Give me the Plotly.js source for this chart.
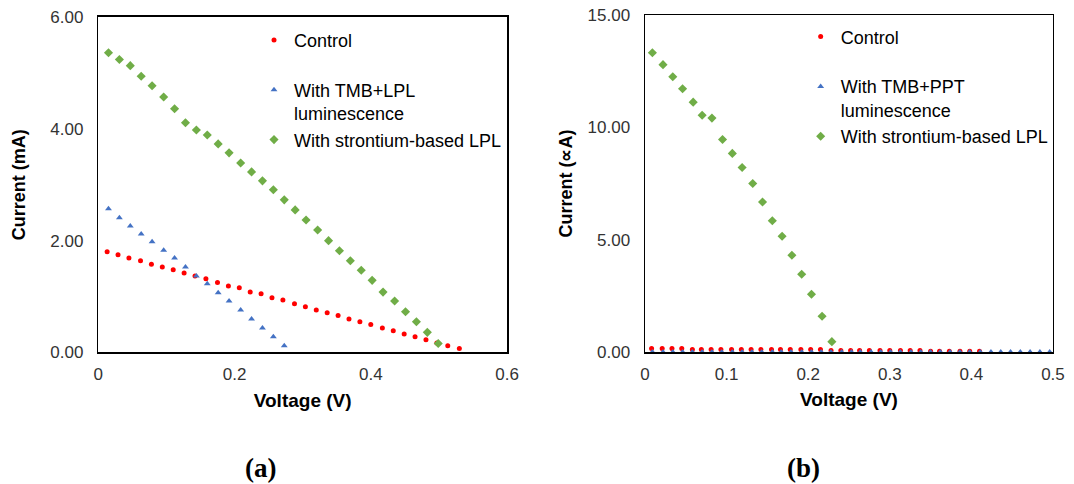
<!DOCTYPE html>
<html>
<head>
<meta charset="utf-8">
<script src="https://cdn.plot.ly/plotly-3.0.1.min.js"></script>
<style>html,body{margin:0;padding:0;background:#fff;}#chart{width:1074px;height:484px;}</style>
</head>
<body>
<div id="chart"></div>
<script>
// ---- Panel (a) ----
const voltA_ctrl = [0.013,0.029,0.045,0.062,0.078,0.094,0.110,0.126,0.142,0.158,0.175,0.191,0.207,0.223,0.239,0.255,0.271,0.288,0.304,0.320,0.336,0.352,0.368,0.384,0.400,0.417,0.433,0.449,0.465,0.481,0.497,0.513,0.530];
const currA_ctrl = [1.80,1.75,1.69,1.64,1.58,1.53,1.48,1.42,1.37,1.32,1.25,1.19,1.16,1.08,1.05,0.98,0.94,0.87,0.82,0.76,0.71,0.66,0.60,0.55,0.50,0.44,0.39,0.33,0.28,0.23,0.17,0.12,0.07];
const voltA_tmb = [0.015,0.031,0.047,0.063,0.079,0.096,0.112,0.128,0.144,0.160,0.176,0.192,0.209,0.225,0.241,0.257,0.273];
const currA_tmb = [2.57,2.41,2.26,2.12,1.98,1.83,1.69,1.53,1.37,1.23,1.07,0.92,0.76,0.60,0.44,0.28,0.12];
const voltA_sr = [0.015,0.031,0.047,0.063,0.079,0.096,0.112,0.128,0.144,0.160,0.176,0.192,0.209,0.225,0.241,0.257,0.273,0.289,0.305,0.322,0.338,0.354,0.370,0.386,0.402,0.418,0.435,0.451,0.467,0.483,0.499];
const currA_sr = [5.36,5.24,5.13,4.94,4.77,4.57,4.36,4.11,3.98,3.89,3.73,3.57,3.39,3.23,3.07,2.91,2.73,2.55,2.37,2.19,2.00,1.82,1.64,1.47,1.29,1.08,0.92,0.73,0.55,0.36,0.16];

// ---- Panel (b) ----
const voltB_ctrl = [0.008,0.021,0.033,0.045,0.058,0.069,0.081,0.093,0.106,0.118,0.130,0.142,0.155,0.166,0.178,0.191,0.203,0.215,0.228,0.240,0.252,0.263,0.275,0.288,0.300,0.313,0.325,0.337,0.350,0.361,0.373,0.386,0.398,0.410];
const currB_ctrl = [0.16,0.16,0.16,0.16,0.11,0.11,0.11,0.11,0.11,0.11,0.11,0.11,0.11,0.11,0.11,0.11,0.11,0.11,0.07,0.07,0.07,0.07,0.07,0.07,0.07,0.07,0.07,0.07,0.03,0.03,0.03,0.03,0.03,0.03];
const voltB_tmb = [0.009,0.022,0.034,0.046,0.058,0.070,0.082,0.094,0.107,0.119,0.131,0.143,0.156,0.167,0.179,0.192,0.204,0.216,0.228,0.241,0.253,0.264,0.277,0.289,0.301,0.313,0.326,0.338,0.350,0.362,0.374,0.386,0.398,0.411,0.424,0.436,0.448,0.460,0.472,0.484,0.496];
const currB_tmb = [0,0,0,0,0,0,0,0,0,0,0,0,0,0,0,0,0,0,0,0,0,0,0,0,0,0,0,0,0,0,0,0,0,0,0,0,0,0,0,0,0];
const voltB_sr = [0.009,0.022,0.034,0.046,0.059,0.070,0.082,0.095,0.107,0.119,0.132,0.144,0.156,0.168,0.180,0.192,0.204,0.217,0.229];
const currB_sr = [13.32,12.79,12.25,11.72,11.12,10.54,10.41,9.46,8.84,8.21,7.50,6.68,5.84,5.15,4.31,3.46,2.57,1.59,0.46];

const namesA = ['Control<br> ', 'With TMB+LPL<br>luminescence', 'With strontium-based LPL'];
const namesB = ['Control<br> ', 'With TMB+PPT<br>luminescence', 'With strontium-based LPL'];
const xTicksA = [0, 0.2, 0.4, 0.6];
const yTicksA = [0, 2, 4, 6];
const xTicksB = [0, 0.1, 0.2, 0.3, 0.4, 0.5];
const yTicksB = [0, 5, 10, 15];

const RED = '#FF0000', BLUE = '#4472C4', GREEN = '#70AD47';
const FONT = 'Liberation Sans, Arial, sans-serif';

function tr(x, y, name, color, symbol, size, xa, ya, leg) {
  return {x: x, y: y, name: name, type: 'scatter', mode: 'markers', xaxis: xa, yaxis: ya,
    legend: leg, cliponaxis: false,
    marker: {color: color, symbol: symbol, size: size, line: {width: 0}}};
}

const data = [
  tr(voltA_ctrl, currA_ctrl, namesA[0], RED, 'circle', 5, 'x', 'y', 'legend'),
  tr(voltA_tmb, currA_tmb, namesA[1], BLUE, 'triangle-up', 6, 'x', 'y', 'legend'),
  tr(voltA_sr, currA_sr, namesA[2], GREEN, 'diamond', 7, 'x', 'y', 'legend'),
  tr(voltB_ctrl, currB_ctrl, namesB[0], RED, 'circle', 5, 'x2', 'y2', 'legend2'),
  tr(voltB_tmb, currB_tmb, namesB[1], BLUE, 'triangle-up', 6, 'x2', 'y2', 'legend2'),
  tr(voltB_sr, currB_sr, namesB[2], GREEN, 'diamond', 7, 'x2', 'y2', 'legend2')
];

const axBase = {showgrid: false, zeroline: false, showline: true, mirror: true,
  linecolor: '#000', linewidth: 1.5, ticks: '', fixedrange: true,
  tickfont: {family: FONT, size: 17, color: '#333'}};

function xa(domain, range, ticks, anchor) {
  return Object.assign({}, axBase, {domain: domain, range: range, anchor: anchor,
    tickmode: 'array', tickvals: ticks, ticktext: ticks.map(v => String(v)),
    ticklabelstandoff: 6,
    title: {text: '<b>Voltage (V)</b>', font: {family: FONT, size: 19, color: '#000'}, standoff: 10}});
}
function ya(domain, range, ticks, anchor, label, standoff) {
  return Object.assign({}, axBase, {domain: domain, range: range, anchor: anchor,
    tickmode: 'array', tickvals: ticks, ticktext: ticks.map(v => v.toFixed(2)),
    ticklabelstandoff: 10,
    title: {text: '<b>' + label + '</b>', font: {family: FONT, size: 18, color: '#000'}, standoff: standoff}});
}

const legBase = {font: {family: FONT, size: 18, color: '#000'}, valign: 'top',
  bgcolor: 'rgba(0,0,0,0)', xanchor: 'left', yanchor: 'top', traceorder: 'normal'};

const layout = {
  width: 1074, height: 484,
  margin: {l: 0, r: 0, t: 0, b: 0},
  paper_bgcolor: '#fff', plot_bgcolor: '#fff',
  showlegend: true,
  xaxis: xa([0.0915, 0.4721], [0, 0.6], xTicksA, 'y'),
  yaxis: ya([0.2717, 0.9649], [0, 6], yTicksA, 'x', 'Current (mA)', 20),
  xaxis2: xa([0.6006, 0.9804], [0, 0.5], xTicksB, 'y2'),
  yaxis2: ya([0.2727, 0.969], [0, 15], yTicksB, 'x2', 'Current (∝A)', 10),
  legend: Object.assign({}, legBase, {x: 0.2365, y: 0.955}),
  legend2: Object.assign({}, legBase, {x: 0.7455, y: 0.962}),
  annotations: [
    {text: '<b>(a)</b>', xref: 'paper', yref: 'paper', x: 0.2421, y: 0.033, showarrow: false,
     xanchor: 'center', yanchor: 'middle', font: {family: 'Liberation Serif, Times New Roman, serif', size: 27, color: '#000'}},
    {text: '<b>(b)</b>', xref: 'paper', yref: 'paper', x: 0.7477, y: 0.033, showarrow: false,
     xanchor: 'center', yanchor: 'middle', font: {family: 'Liberation Serif, Times New Roman, serif', size: 27, color: '#000'}}
  ]
};

Plotly.newPlot('chart', data, layout, {displayModeBar: false, staticPlot: true});
</script>
</body>
</html>
